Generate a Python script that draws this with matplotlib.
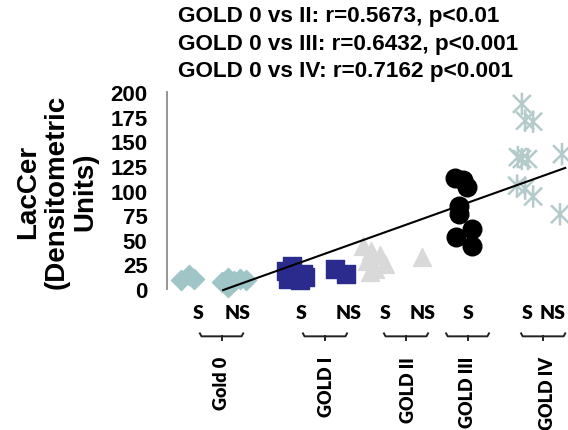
import matplotlib.pyplot as plt
import numpy as np
from matplotlib.path import Path

# --- data (x = position along the category axis) ---
gold0_x = [0.35, 0.55, 0.67, 1.37, 1.52, 1.67, 1.82, 1.97, 1.52]
gold0_y = [9, 14, 10, 7, 11, 8, 10, 9, 2]

gold1_x = [2.97, 3.12, 3.24, 3.44, 3.02, 3.32, 3.39, 4.19, 4.46]
gold1_y = [18, 23, 14, 12, 10, 9, 15, 20, 15]

gold2_x = [4.89, 5.09, 4.99, 5.31, 5.44, 5.19, 5.06, 6.36]
gold2_y = [44, 39, 28, 35, 25, 20, 17, 33]

gold3_x = [7.18, 7.38, 7.48, 7.28, 7.28, 7.61, 7.21, 7.61]
gold3_y = [113, 111, 104, 84, 76, 61, 53, 44]

gold4_x = [8.85, 8.93, 9.13, 8.75, 8.85, 9.00, 8.73, 8.93, 9.13, 9.85, 9.80]
gold4_y = [188, 171, 170, 134, 132, 132, 105, 102, 94, 137, 76]

trend_x = [1.40, 9.93]
trend_y = [-1, 123]

sub_labels = ['S', 'NS', 'S', 'NS', 'S', 'NS', 'S', 'S', 'NS']
sub_pos = [0.77, 1.75, 3.34, 4.54, 5.44, 6.38, 7.50, 8.97, 9.62]

group_labels = ['Gold 0', 'GOLD I', 'GOLD II', 'GOLD III', 'GOLD IV']
group_spans = [(0.82, 1.90), (3.39, 4.49), (5.41, 6.51), (6.96, 8.03), (8.83, 9.93)]
group_label_pos = [1.37, 3.99, 6.03, 7.50, 9.48]

stats_lines = ['GOLD 0 vs II: r=0.5673, p<0.01',
               'GOLD 0 vs III: r=0.6432, p<0.001',
               'GOLD 0 vs IV: r=0.7162 p<0.001']

yticks = [0, 25, 50, 75, 100, 125, 150, 175, 200]

# asterisk marker: X plus vertical bar
star = Path([(0, -1), (0, 1), (-0.8, -0.8), (0.8, 0.8), (-0.8, 0.8), (0.8, -0.8)],
            [Path.MOVETO, Path.LINETO, Path.MOVETO, Path.LINETO, Path.MOVETO, Path.LINETO])

fig = plt.figure(figsize=(5.68, 4.31), dpi=100)
ax = fig.add_axes([0.294, 0.327, 0.706, 0.457])

ax.scatter(gold0_x, gold0_y, marker='D', s=105, color='#9FC5C6', clip_on=False, zorder=3)
ax.scatter(gold1_x, gold1_y, marker='s', s=165, color='#2B2B8E', clip_on=False, zorder=3)
ax.scatter(gold2_x, gold2_y, marker='^', s=165, color='#D9D9D9', clip_on=False, zorder=3)
ax.scatter(gold3_x, gold3_y, marker='o', s=180, color='black', clip_on=False, zorder=3)
ax.scatter(gold4_x, gold4_y, marker=star, s=260, facecolor='none', edgecolor='#B4CACB',
           linewidths=1.8, clip_on=False, zorder=3)

ax.plot(trend_x, trend_y, color='black', lw=1.5, clip_on=False, zorder=4)

ax.set_xlim(0, 10)
ax.set_ylim(0, 200)
ax.set_yticks(yticks)
ax.set_xticks([])
ax.tick_params(axis='y', length=0, pad=14)
for lab in ax.get_yticklabels():
    lab.set_fontfamily('Liberation Sans')
    lab.set_fontweight('bold')
    lab.set_fontsize(16)

for side in ['top', 'right', 'bottom']:
    ax.spines[side].set_visible(False)
ax.spines['left'].set_color('#8C8C8C')
ax.spines['left'].set_linewidth(1.3)
ax.spines['left'].set_bounds(0, 200)

# S / NS labels
for lab, x in zip(sub_labels, sub_pos):
    ax.text(x, -23.5, lab, ha='center', va='center', fontsize=14,
            fontweight='heavy', family='Lato', clip_on=False)

# brackets and group names
yb = -48
for (x0, x1), name, xl in zip(group_spans, group_labels, group_label_pos):
    xc = (x0 + x1) / 2
    ax.plot([x0, x0 + 0.04, x1 - 0.04, x1], [yb + 3, yb, yb, yb + 3],
            color='#222222', lw=1.4, clip_on=False)
    ax.plot([xc, xc], [yb, yb - 4], color='#222222', lw=1.4, clip_on=False)
    ax.text(xl, -68, name, rotation=90, ha='center', va='top', fontsize=13,
            fontweight='heavy', family='Lato', clip_on=False)

# y label
fig.text(0.10, 0.555, 'LacCer\n(Densitometric\nUnits)', rotation=90, ha='center',
         va='center', fontsize=20, fontweight='bold', family='Liberation Sans',
         linespacing=1.15, multialignment='center')

# statistics
for i, line in enumerate(stats_lines):
    fig.text(0.313, 0.961 - i * 0.064, line, ha='left', va='center', fontsize=16.2,
             fontweight='bold', family='Liberation Sans')

fig.savefig('out.png', dpi=100)
